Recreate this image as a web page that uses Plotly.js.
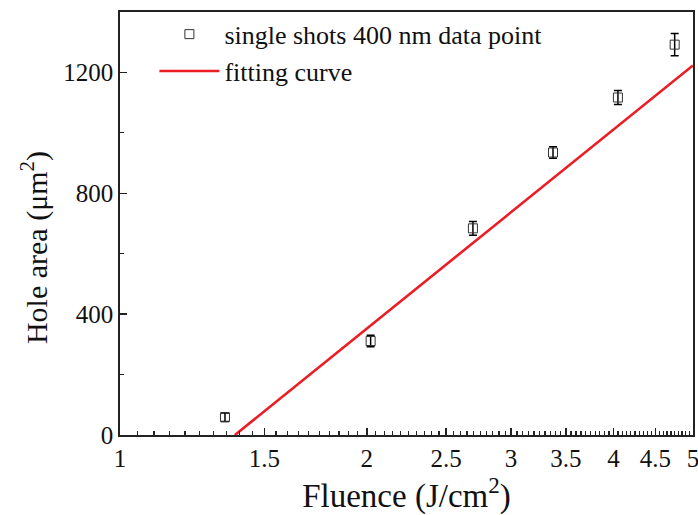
<!DOCTYPE html>
<html>
<head>
<meta charset="utf-8">
<script src="https://cdn.plot.ly/plotly-3.0.1.min.js"></script>
<style>
  html, body { margin: 0; padding: 0; background: #fff; }
  #chart { width: 698px; height: 515px; }
</style>
</head>
<body>
<div id="chart"></div>
<script>
// Single-shot 400 nm ablation: hole area vs. laser fluence
const fluence = [1.343, 2.022, 2.695, 3.375, 4.05, 4.75];       // J/cm^2
const holeArea = [59, 311, 684, 935, 1117, 1292];               // um^2
const areaErr = [14, 19, 23, 19, 23, 37];                       // um^2

// Logarithmic fit A = a * log(F / F_th), straight on a log fluence axis
const fitFluence = [1.381, 5];
const fitArea = [0, 1223];

const xTickVals = [1, 1.5, 2, 2.5, 3, 3.5, 4, 4.5, 5];
const xTickText = ['1', '1.5', '2', '2.5', '3', '3.5', '4', '4.5', '5'];
const yTickVals = [0, 400, 800, 1200];
const yTickText = ['0', '400', '800', '1200'];

// minor ticks every 0.05 along the fluence axis
const xMinor = [];
for (let i = 21; i < 100; i++) {
  if (i % 10 !== 0) xMinor.push(i / 20);
}

const serif = 'Liberation Serif';

const traces = [
  {
    x: fluence,
    y: holeArea,
    type: 'scatter',
    mode: 'markers',
    name: 'single shots 400 nm data point',
    marker: { symbol: 'square-open', size: 9, color: '#333', line: { width: 1 } },
    error_y: { type: 'data', array: areaErr, visible: true, color: '#000', thickness: 1.5, width: 4 }
  },
  {
    x: fitFluence,
    y: fitArea,
    type: 'scatter',
    mode: 'lines',
    name: 'fitting curve',
    line: { color: '#ec1c24', width: 2.6 }
  }
];

const layout = {
  width: 698,
  height: 515,
  margin: { l: 120, r: 5, t: 12, b: 80 },
  paper_bgcolor: '#fff',
  plot_bgcolor: '#fff',
  font: { family: serif, color: '#111' },
  showlegend: true,
  legend: {
    x: 0.06, y: 1.003, xanchor: 'left', yanchor: 'top',
    bgcolor: 'rgba(0,0,0,0)',
    font: { family: serif, size: 26, color: '#111' },
    itemwidth: 60,
    tracegroupgap: 0
  },
  xaxis: {
    type: 'log',
    range: [0, Math.log10(5.001)],
    tickmode: 'array',
    tickvals: xTickVals,
    ticktext: xTickText,
    ticks: 'inside',
    ticklen: 7,
    tickwidth: 1.5,
    tickcolor: '#222',
    ticklabeloverflow: 'allow',
    tickfont: { family: serif, size: 25, color: '#111' },
    minor: { tickmode: 'array', tickvals: xMinor, ticks: 'inside', ticklen: 4, tickwidth: 1.2, tickcolor: '#222' },
    showline: true, linecolor: '#222', linewidth: 1.8, mirror: true,
    showgrid: false, zeroline: false,
    title: { text: 'Fluence (J/cm<sup>2</sup>)', font: { family: serif, size: 33, color: '#111' }, standoff: 6 }
  },
  yaxis: {
    range: [0, 1400],
    tickmode: 'array',
    tickvals: yTickVals,
    ticktext: yTickText,
    ticks: 'inside',
    ticklen: 7,
    tickwidth: 1.5,
    tickcolor: '#222',
    tickfont: { family: serif, size: 25, color: '#111' },
    minor: { tickmode: 'array', tickvals: [200, 600, 1000], ticks: 'inside', ticklen: 4, tickwidth: 1.2, tickcolor: '#222' },
    showline: true, linecolor: '#222', linewidth: 1.8, mirror: true,
    showgrid: false, zeroline: false
  },
  annotations: [
    {
      text: 'Hole area (μm<sup>2</sup>)',
      xref: 'paper', yref: 'paper',
      x: -0.15, y: 0.442,
      xanchor: 'center', yanchor: 'middle',
      textangle: -90,
      showarrow: false,
      font: { family: serif, size: 30, color: '#111' }
    }
  ]
};

Plotly.newPlot('chart', traces, layout, { displayModeBar: false, staticPlot: true });
</script>
</body>
</html>
